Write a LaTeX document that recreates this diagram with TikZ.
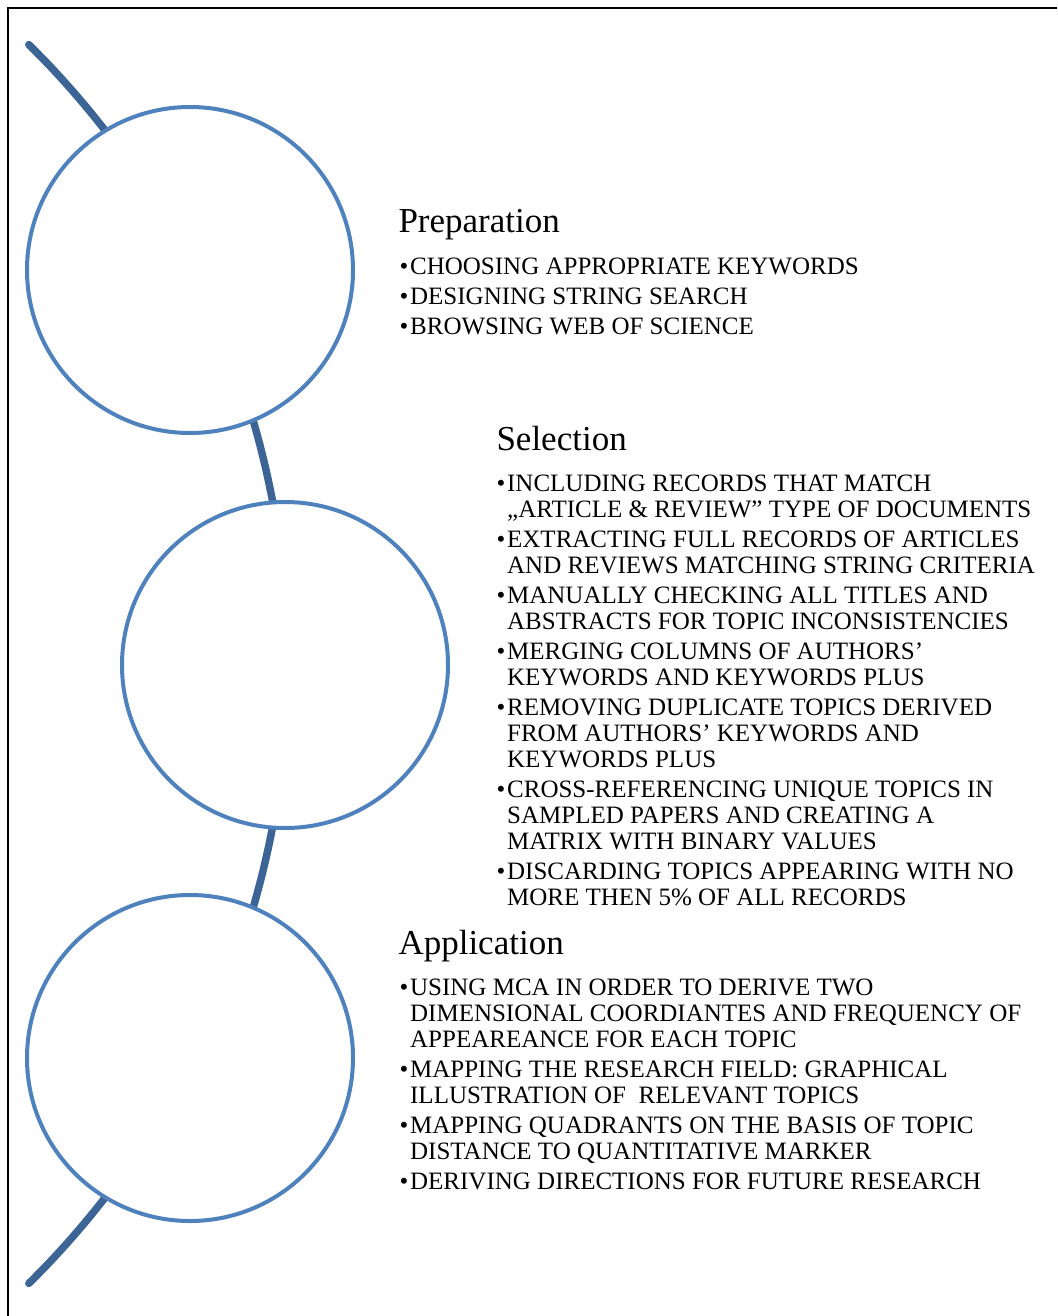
\documentclass[tikz,border=0pt]{standalone}
\usepackage{fontspec}
\setmainfont{Liberation Serif}
\definecolor{circleblue}{RGB}{79,129,189}
\definecolor{arcblue}{RGB}{60,100,148}
\newcommand{\bul}{\makebox[8pt][l]{\textbullet}}
\newcommand{\hang}{\hspace*{8pt}}
\tikzset{every picture/.style={line width=0.75pt}}
\tikzset{stage/.style={circle, draw=circleblue, line width=3pt, fill=white, minimum size=244.5pt, inner sep=0pt},
  heading/.style={anchor=base west, inner sep=0pt, font=\fontsize{26.25}{31}\selectfont},
  steps/.style={anchor=north west, inner sep=0pt, align=left, font=\fontsize{18.75}{19.5}\selectfont}}

\begin{document}
\begin{tikzpicture}[x=0.75pt,y=0.75pt,yscale=-1,xscale=1]
\useasboundingbox (0,0) rectangle (1057,1316);

%Frame
\draw [line width=1.5] (1057,8) -- (8,8) -- (8,1316) ;
%Curve Lines: big arc behind the circles
\coordinate (hub) at (-582,664);
\draw [color=arcblue, line width=5.6, line cap=round] (hub) ++(-45.4:870) arc [start angle=-45.4, end angle=45.4, radius=870] ;

%Shape: Circle
\node [stage] (prep) at (190,270) {};
%Shape: Circle
\node [stage] (sel) at (285,665) {};
%Shape: Circle
\node [stage] (app) at (190,1058) {};

% Text Node
\node [heading] (prepHead) at (398,233) {Preparation};
% Text Node
\node [steps] (prepList) at (399,257) {\bul CHOOSING APPROPRIATE KEYWORDS\\[3pt]
\bul DESIGNING STRING SEARCH\\[3pt]
\bul BROWSING WEB OF SCIENCE};

% Text Node
\node [heading] (selHead) at (496,450) {Selection};
% Text Node
\node [steps] (selList) at (496,474) {\bul INCLUDING RECORDS THAT MATCH\\
\hang „ARTICLE \& REVIEW” TYPE OF DOCUMENTS\\[3pt]
\bul EXTRACTING FULL RECORDS OF ARTICLES\\
\hang AND REVIEWS MATCHING STRING CRITERIA\\[3pt]
\bul MANUALLY CHECKING ALL TITLES AND\\
\hang ABSTRACTS FOR TOPIC INCONSISTENCIES\\[3pt]
\bul MERGING COLUMNS OF AUTHORS’\\
\hang KEYWORDS AND KEYWORDS PLUS\\[3pt]
\bul REMOVING DUPLICATE TOPICS DERIVED\\
\hang FROM AUTHORS’ KEYWORDS AND\\
\hang KEYWORDS PLUS\\[3pt]
\bul CROSS-REFERENCING UNIQUE TOPICS IN\\
\hang SAMPLED PAPERS AND CREATING A\\
\hang MATRIX WITH BINARY VALUES\\[3pt]
\bul DISCARDING TOPICS APPEARING WITH NO\\
\hang MORE THEN 5\% OF ALL RECORDS};

% Text Node
\node [heading] (appHead) at (398,954) {Application};
% Text Node
\node [steps] (appList) at (399,978) {\bul USING MCA IN ORDER TO DERIVE TWO\\
\hang DIMENSIONAL COORDIANTES AND FREQUENCY OF\\
\hang APPEAREANCE FOR EACH TOPIC\\[3pt]
\bul MAPPING THE RESEARCH FIELD: GRAPHICAL\\
\hang ILLUSTRATION OF\ \ RELEVANT TOPICS\\[3pt]
\bul MAPPING QUADRANTS ON THE BASIS OF TOPIC\\
\hang DISTANCE TO QUANTITATIVE MARKER\\[3pt]
\bul DERIVING DIRECTIONS FOR FUTURE RESEARCH};

\end{tikzpicture}
\end{document}
